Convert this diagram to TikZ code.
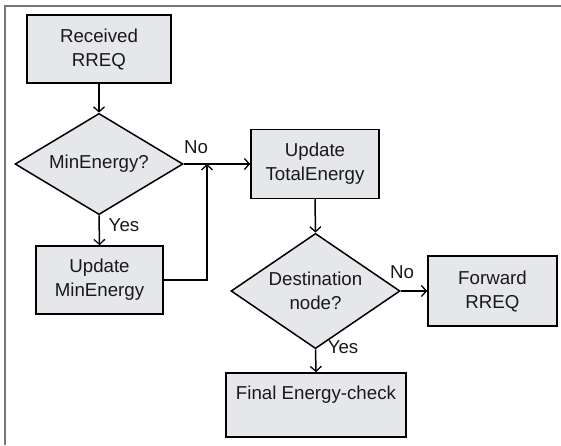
\documentclass[tikz,border=0pt]{standalone}
\usepackage{fontspec}
\setmainfont{Liberation Sans}
\usetikzlibrary{shapes.geometric,arrows.meta}
\definecolor{boxfill}{RGB}{230,231,235}
\definecolor{framegray}{RGB}{120,120,120}
\definecolor{txt}{RGB}{25,25,25}
\tikzset{
  stepbox/.style={draw=black, fill=boxfill, line width=1.5pt, rectangle, align=center, inner sep=0pt, text=txt},
  decision/.style={draw=black, fill=boxfill, line width=1.5pt, diamond, align=center, inner sep=-4pt, text=txt},
  flow/.style={line width=1.5pt, -{Straight Barb[length=5pt,width=11pt,line width=1.3pt]}},
  plain/.style={line width=1.5pt},
  lbl/.style={text=txt, inner sep=0pt}
}
\begin{document}
\begin{tikzpicture}[x=1pt,y=-1pt,font=\fontsize{18.7}{24}\selectfont]
\useasboundingbox (0,0) rectangle (561,445);
\draw[framegray, line width=1.6pt] (5,445) -- (5,6) -- (561,6);

\node[stepbox, minimum width=144pt, minimum height=68pt] (rr) at (99,49) {Received\\RREQ};
\node[decision, minimum width=168pt, minimum height=96pt] (d1) at (99,164) {MinEnergy?};
\node[stepbox, minimum width=127pt, minimum height=68pt] (umin) at (99.5,280) {Update\\MinEnergy};
\node[stepbox, minimum width=128pt, minimum height=69pt] (ut) at (315,164) {Update\\TotalEnergy};
\node[decision, minimum width=169pt, minimum height=95pt] (d2) at (315.5,291) {Destination\\node?};
\node[stepbox, minimum width=129pt, minimum height=70pt] (fw) at (492.5,291) {Forward\\RREQ};
\node[stepbox, minimum width=180pt, minimum height=64pt] (fe) at (316,405) {Final Energy-check\\\mbox{}};

\coordinate (j) at (207,164);

\draw[flow] (rr.south) -- (d1.north);
\draw[flow] (d1.south) -- (umin.north);
\draw[flow] (d1.east) -- (ut.west);
\draw[flow] (umin.east) -- (umin.east -| j) -- (j);
\draw[flow] (ut.south) -- (d2.north);
\draw[flow] (d2.east) -- (fw.west);
\draw[flow] (d2.south) -- (fe.north);

\node[lbl] (no1) at (196,147) {No};
\node[lbl] (yes1) at (124,225) {Yes};
\node[lbl] (no2) at (402,272) {No};
\node[lbl] (yes2) at (343,347) {Yes};
\end{tikzpicture}
\end{document}
